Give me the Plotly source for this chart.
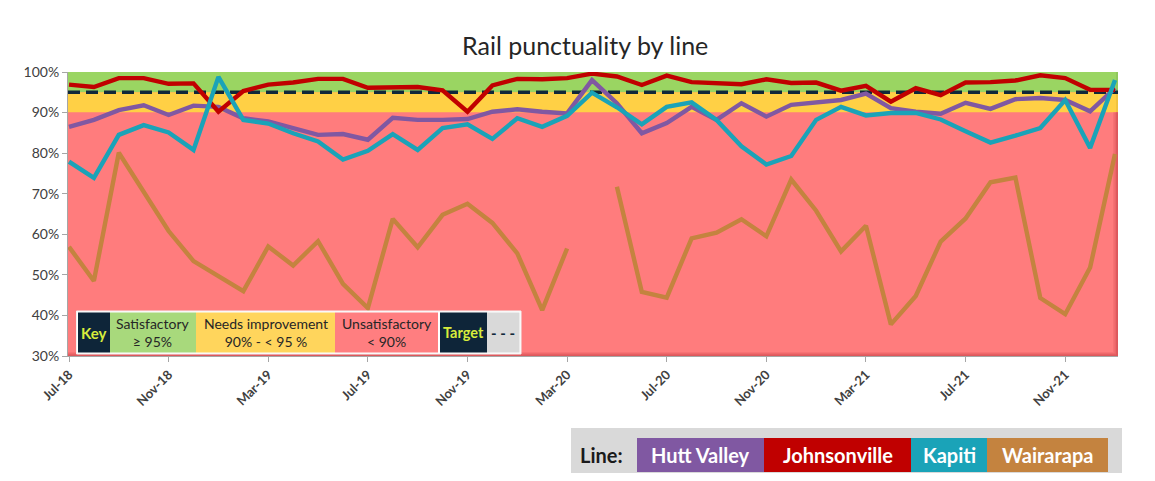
import plotly.graph_objects as go

months = ["Jul-18","Aug-18","Sep-18","Oct-18","Nov-18","Dec-18",
          "Jan-19","Feb-19","Mar-19","Apr-19","May-19","Jun-19","Jul-19","Aug-19","Sep-19","Oct-19","Nov-19","Dec-19",
          "Jan-20","Feb-20","Mar-20","Apr-20","May-20","Jun-20","Jul-20","Aug-20","Sep-20","Oct-20","Nov-20","Dec-20",
          "Jan-21","Feb-21","Mar-21","Apr-21","May-21","Jun-21","Jul-21","Aug-21","Sep-21","Oct-21","Nov-21","Dec-21",
          "Jan-22"]

hutt_valley = [86.5, 88.2, 90.6, 91.8, 89.4, 91.7, 91.4, 88.6, 87.8, 86.2, 84.5, 84.7, 83.3, 88.7, 88.2, 88.2,
               88.4, 90.2, 90.8, 90.2, 89.8, 98.0, 92.3, 84.9, 87.4, 91.4, 88.2, 92.3, 89.0, 91.9, 92.4, 93.1,
               94.7, 91.1, 90.2, 89.7, 92.4, 90.9, 93.3, 93.6, 93.1, 90.3, 96.0]
johnsonville = [96.9, 96.3, 98.5, 98.5, 97.1, 97.2, 90.2, 95.3, 96.9, 97.4, 98.3, 98.3, 96.1, 96.1, 96.3, 95.5,
                90.2, 96.7, 98.3, 98.2, 98.5, 99.6, 98.9, 96.8, 99.1, 97.5, 97.2, 97.0, 98.2, 97.3, 97.4, 95.4,
                96.6, 92.7, 96.0, 94.3, 97.4, 97.5, 97.9, 99.2, 98.5, 95.6, 95.6]
kapiti = [77.9, 73.9, 84.5, 86.9, 85.1, 80.8, 98.8, 88.2, 87.3, 84.9, 82.9, 78.4, 80.6, 84.7, 80.8, 86.2,
          87.1, 83.5, 88.6, 86.5, 89.2, 94.9, 91.3, 87.1, 91.4, 92.5, 88.2, 81.7, 77.2, 79.3, 88.2, 91.4,
          89.3, 89.9, 89.9, 88.3, 85.4, 82.6, 84.3, 86.2, 93.1, 81.3, 98.0]
wairarapa = [56.9, 48.5, 80.1, 70.3, 60.8, 53.4, 49.6, 46.0, 57.0, 52.3, 58.3, 47.8, 41.8, 63.8, 56.8, 64.8,
             67.5, 62.8, 55.3, 41.3, 56.5, None, 71.7, 45.8, 44.4, 59.0, 60.4, 63.7, 59.5, 73.5, 65.8, 55.8,
             62.1, 37.8, 44.8, 58.2, 63.9, 72.8, 74.0, 44.3, 40.3, 51.8, 79.8]

target = 95
satisfactory_min = 95
improvement_min = 90
y_min, y_max = 30, 100

tick_labels = ["Jul-18","Nov-18","Mar-19","Jul-19","Nov-19","Mar-20","Jul-20","Nov-20","Mar-21","Jul-21","Nov-21"]
y_ticks = [30, 40, 50, 60, 70, 80, 90, 100]

series = [("Hutt Valley", hutt_valley, "#8058A2"),
          ("Johnsonville", johnsonville, "#C00000"),
          ("Kapiti", kapiti, "#1AA3B8"),
          ("Wairarapa", wairarapa, "#C4833F")]

# page is 1155x481 with the browser's 8px body margin
OFF = 8
W_FIG, H_FIG = 1155 - 2 * OFF, 481 - 2 * OFF
# plot area in page pixels
L, R, T, B = 68, 1118, 72, 356
FONT = "Lato"


def px(x):
    return (x - L) / (R - L)


def py(y):
    return (B - y) / (B - T)


fig = go.Figure()
xs = list(range(len(months)))
for name, vals, col in series:
    fig.add_trace(go.Scatter(x=xs, y=vals, mode="lines", name=name,
                             line=dict(color=col, width=4.4), connectgaps=False,
                             hovertemplate="%{text}: %{y:.1f}%<extra>" + name + "</extra>",
                             text=months))

shapes = []
# performance bands
shapes.append(dict(type="rect", xref="paper", yref="y", x0=0, x1=1, y0=satisfactory_min, y1=y_max,
                   fillcolor="#9AD562", line_width=0, layer="below"))
shapes.append(dict(type="rect", xref="paper", yref="y", x0=0, x1=1, y0=improvement_min, y1=satisfactory_min,
                   fillcolor="#FFD045", line_width=0, layer="below"))
shapes.append(dict(type="rect", xref="paper", yref="y", x0=0, x1=1, y0=y_min, y1=improvement_min,
                   fillcolor="#FF7C7D", line_width=0, layer="below"))
# subtle 3D shading at bottom/right of red area
for i, c in enumerate(["#F77274", "#EC6669", "#DD585C"]):
    shapes.append(dict(type="rect", xref="paper", yref="paper", x0=0, x1=1,
                       y0=0, y1=py(B - 4 + i * 1.3), fillcolor=c, line_width=0, layer="below"))
    shapes.append(dict(type="rect", xref="paper", yref="y", x0=px(R - 5 + i * 1.6), x1=1,
                       y0=y_min, y1=improvement_min, fillcolor=c, line_width=0, layer="below"))
shapes.append(dict(type="rect", xref="paper", yref="y", x0=px(R - 2), x1=1, y0=improvement_min, y1=y_max,
                   fillcolor="rgba(0,0,0,0.06)", line_width=0, layer="below"))
# target line
shapes.append(dict(type="line", xref="paper", yref="y", x0=0, x1=1, y0=target, y1=target,
                   line=dict(color="#10283A", width=3.6, dash="12px,6px"), layer="below"))

annotations = []
# key box
shapes.append(dict(type="rect", xref="paper", yref="paper", x0=px(76.5), x1=px(521), y0=py(354), y1=py(311),
                   fillcolor="#FFFFFF", line=dict(color="#F2F2F2", width=1), layer="above"))
key_cells = [("<b>Key</b>", 78, 110, "#0E2539", "#D8EC3C", 15),
             ("Satisfactory<br>≥ 95%", 110, 196, "#A8D97C", "#262626", 14),
             ("Needs improvement<br>90% - < 95 %", 196, 335, "#FFD55C", "#262626", 14),
             ("Unsatisfactory<br>< 90%", 335, 438, "#FF7E80", "#262626", 14),
             ("<b>Target</b>", 440, 487, "#0E2539", "#D8EC3C", 14.5),
             ("<b>- - -</b>", 487, 519.5, "#D9D9D9", "#10283A", 15)]
for text, x0, x1, bg, fc, fs in key_cells:
    shapes.append(dict(type="rect", xref="paper", yref="paper", x0=px(x0), x1=px(x1), y0=py(352.5), y1=py(312.5),
                       fillcolor=bg, line_width=0, layer="above"))
    annotations.append(dict(xref="paper", yref="paper", x=px((x0 + x1) / 2), y=py(332.5), text=text,
                            showarrow=False, font=dict(family=FONT, size=fs, color=fc),
                            xanchor="center", yanchor="middle"))

# bottom line legend
shapes.append(dict(type="rect", xref="paper", yref="paper", x0=px(571), x1=px(1122), y0=py(479), y1=py(428),
                   fillcolor="#D9D9D9", line_width=0, layer="above"))
annotations.append(dict(xref="paper", yref="paper", x=px(601), y=py(455), text="<b>Line:</b>",
                        showarrow=False, font=dict(family=FONT, size=20, color="#1A1A1A"),
                        xanchor="center", yanchor="middle"))
legend_cells = [(637, 764), (764, 911), (911, 987), (987, 1108)]
for (name, vals, col), (x0, x1) in zip(series, legend_cells):
    shapes.append(dict(type="rect", xref="paper", yref="paper", x0=px(x0), x1=px(x1), y0=py(472), y1=py(438),
                       fillcolor=col, line_width=0, layer="above"))
    annotations.append(dict(xref="paper", yref="paper", x=px((x0 + x1) / 2), y=py(455), text="<b>" + name + "</b>",
                            showarrow=False, font=dict(family=FONT, size=20, color="#FFFFFF"),
                            xanchor="center", yanchor="middle"))

# title
annotations.append(dict(xref="paper", yref="paper", x=px(585), y=py(45), text="Rail punctuality by line",
                        showarrow=False, font=dict(family=FONT, size=25, color="#262626"),
                        xanchor="center", yanchor="middle"))

tick_vals = [months.index(m) for m in tick_labels]

fig.update_layout(
    width=W_FIG, height=H_FIG, autosize=False,
    margin=dict(l=L - OFF, r=W_FIG - (R - OFF), t=T - OFF, b=H_FIG - (B - OFF), pad=0),
    paper_bgcolor="#FFFFFF", plot_bgcolor="#FF7C7D",
    showlegend=False,
    shapes=shapes, annotations=annotations,
    xaxis=dict(range=[-0.04, 42.12], tickmode="array", tickvals=tick_vals, ticktext=tick_labels,
               tickangle=-45, showgrid=False, zeroline=False, showline=True, linecolor="#A6A6A6",
               linewidth=1, ticks="outside", ticklen=5, tickcolor="#A6A6A6",
               tickfont=dict(family=FONT, size=13, color="#404040", weight="bold")),
    yaxis=dict(range=[y_min, y_max], tickmode="array", tickvals=y_ticks,
               ticktext=[f"{v}%" for v in y_ticks], showgrid=False, zeroline=False,
               showline=True, linecolor="#A6A6A6", linewidth=1, ticks="outside", ticklen=5,
               tickcolor="#A6A6A6", tickfont=dict(family=FONT, size=14, color="#404040")),
)

fig.write_html("out.html")
